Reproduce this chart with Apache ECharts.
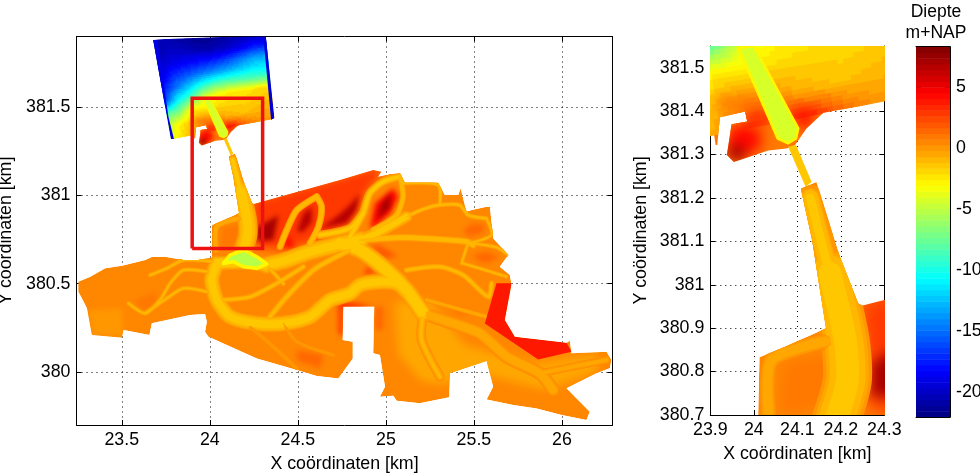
<!DOCTYPE html>
<html>
<head>
<meta charset="utf-8">
<title>Diepte</title>
<style>
html,body{margin:0;padding:0;background:#fff;}
#container{width:980px;height:476px;}
</style>
<script src="https://cdn.jsdelivr.net/npm/echarts@6/dist/echarts.min.js"></script>
</head>
<body>
<div id="container"></div>
<script>
// axis ticks
var mainXTicks = [23.5,24,24.5,25,25.5,26];
var mainYTicks = [380,380.5,381,381.5];
var zoomXTicks = [23.9,24,24.1,24.2,24.3];
var zoomYTicks = [380.7,380.8,380.9,381,381.1,381.2,381.3,381.4,381.5];
var barTicks = [-20,-15,-10,-5,0,5];
var depthMin = -22, depthMax = 8.3;

// red box on the main map, km
var zoomBox = [[23.9,380.7],[24.3,380.7],[24.3,381.55],[23.9,381.55],[23.9,380.7]];

// outline of the land part, km
var landOutline = [[23.253,380.511],[23.321,380.54],[23.406,380.587],[23.501,380.602],[23.633,380.634],[23.671,380.651],[23.746,380.653],[23.85,380.634],[23.935,380.634],[24.011,380.649],[24.01,380.7],[24.013,380.833],[24.072,380.857],[24.166,380.9],[24.134,381.103],[24.108,381.222],[24.144,381.237],[24.198,381.065],[24.24,380.957],[24.25,380.952],[24.3,380.965],[24.739,381.087],[24.928,381.144],[24.976,381.134],[24.955,381.106],[25.023,381.121],[25.08,381.125],[25.108,381.072],[25.297,381.072],[25.335,381.002],[25.411,381.002],[25.424,381.04],[25.458,380.908],[25.487,380.917],[25.572,380.936],[25.591,380.936],[25.609,380.757],[25.695,380.662],[25.647,380.596],[25.704,380.549],[25.714,380.493],[25.676,380.294],[25.733,380.2],[26.026,380.166],[26.045,380.177],[26.054,380.106],[26.253,380.115],[26.281,380.068],[26.272,380.021],[26.196,379.993],[26.026,379.908],[26.158,379.775],[26.139,379.728],[25.998,379.756],[25.856,379.794],[25.723,379.813],[25.572,379.845],[25.609,379.917],[25.572,380.062],[25.364,379.993],[25.36,379.857],[25.193,379.823],[25.061,379.837],[25.042,379.866],[24.966,379.86],[24.995,379.917],[24.966,380.096],[24.928,380.106],[24.934,380.37],[24.758,380.37],[24.755,380.181],[24.812,380.172],[24.812,380.077],[24.73,379.964],[24.607,379.977],[24.494,380.011],[24.267,380.077],[23.992,380.2],[23.973,380.228],[23.983,380.285],[23.973,380.328],[23.888,380.323],[23.671,380.276],[23.657,380.209],[23.51,380.238],[23.501,380.194],[23.33,380.209],[23.302,380.361],[23.274,380.417],[23.253,380.455]];
var landDepth = 0.5;

// patches on the land, painted in this order below the channels
var patchOutlines = [
  [[23.311,380.351],[23.5,380.36],[23.51,380.2],[23.33,380.21]],
  [[23.576,380.408],[23.699,380.455],[23.69,380.37],[23.614,380.351]],
  [[25.05,380.4],[25.25,380.4],[25.45,380.15],[25.85,380.05],[26.2,380.1],[26.2,380.0],[25.9,379.9],[25.5,380.0],[25.32,379.93],[25.2,379.95],[25.07,380.1]],
  [[24.072,380.819],[24.183,380.838],[24.179,380.742],[24.121,380.708],[24.059,380.704]],
  [[24.238,380.965],[24.73,381.097],[24.928,381.154],[24.986,381.144],[24.871,380.993],[24.796,380.842],[24.645,380.757],[24.418,380.691],[24.267,380.706]],
  [[24.27,380.82],[24.39,380.889],[24.361,380.747],[24.27,380.74]],
  [[24.494,380.795],[24.531,380.898],[24.579,380.936],[24.579,380.851],[24.531,380.795]],
  [[24.626,380.813],[24.72,380.879],[24.796,380.946],[24.853,381.012],[24.834,380.917],[24.777,380.842]],
  [[24.446,380.776],[24.484,380.706],[24.418,380.706]],
  [[24.909,380.813],[24.938,380.955],[25.042,381.04],[25.07,380.993],[25.023,380.898],[24.938,380.823]],
  [[24.947,380.861],[24.975,380.955],[25.032,381.012],[25.023,380.927]],
  [[25.439,380.804],[25.496,380.842],[25.571,380.832],[25.543,380.785],[25.467,380.766]],
  [[25.496,380.662],[25.571,380.681],[25.647,380.653],[25.571,380.615],[25.515,380.634]],
  [[24.909,380.719],[24.966,380.719],[25.07,380.653],[24.985,380.644]],
  [[24.871,380.559],[24.938,380.549],[24.9,380.596]],
  [[25.373,380.36],[25.439,380.351],[25.467,380.323],[25.401,380.323]],
  [[24.494,380.124],[24.645,380.096],[24.626,380.02],[24.494,380.068]],
  [[24.739,380.398],[24.852,380.385],[24.928,380.37],[24.758,380.36],[24.739,380.36]],
  [[24.73,380.38],[24.758,380.38],[24.758,380.2],[24.73,380.22]],
  [[24.938,380.37],[24.985,380.37],[24.985,380.238],[24.938,380.238]]
];
var patchDepths = [-0.2,1,-0.25,1.1,3,7,6.5,6.5,4.5,4.5,7,1.6,1.6,1.9,3,1,1.3,3.5,3,1.3];

// tidal channels: centre lines, widths and deepest value
var channelPaths = [
  [[25.212,380.332],[25.203,380.181],[25.307,379.973]],
  [[25.212,380.332],[25.382,380.275],[25.534,380.219],[25.685,380.087],[25.874,379.992],[25.95,379.898]],
  [[25.874,379.992],[26.06,380.03],[26.253,380.068]],
  [[24.13,381.2],[24.158,381.088],[24.175,381.026]],
  [[24.175,381.026],[24.21,380.873],[24.215,380.78],[24.19,380.69]],
  [[24.323,380.606],[24.437,380.634],[24.569,380.681],[24.796,380.738],[24.86,380.75]],
  [[24.86,380.75],[24.966,380.795],[25.117,380.88]],
  [[25.117,380.88],[25.22,380.925],[25.307,380.946],[25.42,380.945],[25.467,380.889],[25.571,380.87]],
  [[24.796,380.766],[24.871,380.9],[24.909,381.012],[24.985,381.078],[25.08,381.106]],
  [[24.928,380.804],[25.061,380.889],[25.098,380.993],[25.089,381.068],[25.08,381.106]],
  [[25.089,381.068],[25.297,381.059],[25.307,380.955]],
  [[24.399,380.71],[24.437,380.804],[24.494,380.917],[24.607,380.993]],
  [[24.569,380.728],[24.617,380.823],[24.635,380.936],[24.607,380.993]],
  [[24.626,380.776],[24.796,380.814],[24.871,380.9]],
  [[24.852,380.747],[25.098,380.762],[25.307,380.751],[25.458,380.738],[25.496,380.719]],
  [[25.467,380.728],[25.6,380.776],[25.571,380.87]],
  [[25.496,380.728],[25.628,380.706],[25.694,380.662]],
  [[25.467,380.728],[25.43,380.615],[25.439,380.615],[25.685,380.54]],
  [[24.739,380.728],[24.852,380.691],[25.004,380.577],[25.117,380.464],[25.212,380.332]],
  [[24.04,380.615],[24.011,380.521],[24.04,380.408],[24.115,380.313],[24.267,380.275],[24.418,380.275],[24.569,380.313],[24.683,380.408],[24.796,380.445],[24.852,380.492],[24.966,380.511],[25.061,380.502],[25.117,380.455]],
  [[24.342,380.313],[24.437,380.427],[24.588,380.577],[24.683,380.634],[24.796,380.691]],
  [[24.077,380.408],[24.229,380.426],[24.38,380.502],[24.531,380.596]],
  [[24.323,380.606],[24.418,380.5]],
  [[24.229,380.256],[24.361,380.143],[24.494,380.02]],
  [[24.418,380.275],[24.494,380.172],[24.702,380.096]],
  [[24.021,380.625],[23.85,380.634],[23.756,380.587],[23.661,380.549]],
  [[23.983,380.568],[23.85,380.577],[23.775,380.502],[23.718,380.408],[23.633,380.332],[23.538,380.389]],
  [[23.983,380.455],[23.85,380.474],[23.756,380.417],[23.633,380.332]],
  [[25.117,380.577],[25.307,380.596],[25.439,380.549],[25.581,380.426],[25.6,380.502]],
  [[25.231,380.408],[25.571,380.313]],
  [[24.04,380.615],[24.19,380.62],[24.323,380.606]],
  [[24.035,380.69],[24.04,380.825],[24.165,380.87]]
];
var channelWidths = [0.036,0.05,0.03,0.04,0.075,0.066,0.045,0.018,0.032,0.024,0.016,0.026,0.026,0.032,0.028,0.018,0.018,0.018,0.066,0.06,0.026,0.022,0.022,0.016,0.014,0.02,0.02,0.02,0.022,0.018,0.055,0.025];
var channelDepths = [-0.7,-0.6,-0.4,-1.3,-1.5,-1.55,-1.45,-0.8,-1.2,-1.05,-0.8,-1,-1,-1.2,-1,-0.7,-0.7,-0.7,-1.6,-1.55,-0.8,-0.8,-0.7,-0.2,-0.2,-0.7,-0.7,-0.7,-0.8,-0.6,-1.6,-0.5];

// raised red strip and the shallow green flat, above the channels
var stripOutline = [[25.628,380.502],[25.713,380.502],[25.676,380.294],[25.732,380.2],[26.026,380.166],[26.054,380.115],[25.865,380.071],[25.562,380.275]];
var stripDepth = 3.7;
var flatOutline = [[24.077,380.615],[24.115,380.662],[24.191,380.691],[24.267,380.653],[24.323,380.611],[24.267,380.587],[24.191,380.596],[24.134,380.625]];
var flatDepth = -5.3;

// sea part: outline, corners of the survey block and depths on it (north to south, west to east)
var seaOutline = [[23.678,381.88],[23.879,381.9],[24.318,381.9],[24.367,381.437],[24.348,381.427],[24.3,381.418],[24.198,381.403],[24.16,381.396],[24.121,381.36],[24.095,381.322],[24.075,381.314],[24.033,381.309],[23.954,381.283],[23.938,381.299],[23.949,381.37],[23.985,381.376],[23.98,381.399],[23.922,381.386],[23.916,381.322],[23.879,381.323],[23.779,381.319]];
var seaCorners = [[23.678,381.88],[24.318,381.903],[24.367,381.437],[23.779,381.319]];
var seaDepths = [
  [-20.5,-20.5,-21,-21.5,-21.5,-21,-20.5,-20,-20],
  [-20.5,-20,-20,-20.5,-20.5,-20,-19,-17.5,-17],
  [-20,-19,-18.5,-18,-17.5,-16.5,-15,-13.5,-13],
  [-19.5,-17,-16,-15,-14,-13,-12,-11,-11],
  [-18,-15,-12.5,-10,-8.5,-8,-8,-8,-8],
  [-17,-11,-8.5,-4.5,-3,-2.5,-2.5,-2,-2],
  [-8,-7,-2.5,-2.5,-2,-1.8,-1.8,-1.5,-1.2],
  [-5,-2.5,-1,0.5,-0.3,-1,-1.2,-0.8,-0.6],
  [-4,-2,0,2,2.5,3,1,0,-0.2]
];
// blurred spots around the harbour mouth, and blue block edges
var harbourOutline = [[23.9,381.405],[24.17,381.425],[24.13,381.33],[24.09,381.29],[23.92,381.27]];
var harbourDepth = 1;
var seaPatchOutlines = [
  [[23.911,381.437],[24.014,381.422],[24.03,381.395],[23.922,381.403]],
  [[23.945,381.364],[23.991,381.368],[24.018,381.349],[24.015,381.314],[23.968,381.291],[23.939,381.303]],
  [[23.941,381.303],[23.957,381.283],[23.984,381.303],[23.961,381.322],[23.946,381.318]],
  [[23.987,381.395],[24.022,381.399],[24.03,381.376],[23.992,381.372]],
  [[24.091,381.403],[24.137,381.403],[24.137,381.376],[24.114,381.356],[24.098,381.372]]
];
var seaPatchDepths = [1,4.5,8,4.5,4.5];
var seaEdgeOutlines = [
  [[23.68,381.88],[23.703,381.88],[23.765,381.446],[23.797,381.318],[23.778,381.318]],
  [[24.304,381.899],[24.323,381.899],[24.367,381.437],[24.348,381.427],[24.327,381.653]]
];
var seaEdgeDepths = [-19,-19.5];

// dredged entrance and the narrow neck behind it
var inletOutline = [[23.965,381.545],[24.0,381.55],[24.102,381.36],[24.097,381.337],[24.079,381.326],[24.055,381.337]];
var inletDepth = -4.2;
var neckOutline = [[24.079,381.318],[24.097,381.322],[24.133,381.237],[24.119,381.226]];
var neckDepth = -1.6;

function clamp01(v){ return Math.max(0,Math.min(1,v)); }
// matlab jet, 64 levels
function jetColor(depth){
	var p = clamp01((depth-depthMin)/(depthMax-depthMin));
	p = (Math.min(63,Math.floor(p*64))+0.5)/64;
	var r = clamp01(1.5-Math.abs(4*p-3));
	var g = clamp01(1.5-Math.abs(4*p-2));
	var b = clamp01(1.5-Math.abs(4*p-1));
	return 'rgb('+Math.round(r*255)+','+Math.round(g*255)+','+Math.round(b*255)+')';
}
function toPx(api,list){
	return list.map(function(p){ return api.coord(p); });
}
function mapScale(api){
	return api.size([1,0])[0]/176.2;
}
// only the shadow lands on the map, the shape itself sits off canvas
var offCanvas = 3000;
function softPatch(api,outline,depth,blur){
	var pts = toPx(api,outline).map(function(p){ return [p[0]-offCanvas,p[1]]; });
	return {type:'polygon',shape:{points:pts},silent:true,
		style:{fill:'#000',shadowColor:jetColor(depth),shadowBlur:blur,shadowOffsetX:offCanvas}};
}
function sharpPatch(api,outline,depth,fringeDepth,fringeWidth){
	var style = {fill:jetColor(depth)};
	if(fringeWidth){
		style.stroke = jetColor(fringeDepth);
		style.lineWidth = fringeWidth;
		style.lineJoin = 'round';
	}
	return {type:'polygon',shape:{points:toPx(api,outline)},silent:true,style:style};
}

function renderLand(params,api){
	var k = mapScale(api), perKm = api.size([1,0])[0];
	var kids = [];
	kids.push(sharpPatch(api,landOutline,landDepth));
	patchOutlines.forEach(function(o,i){
		kids.push(softPatch(api,o,patchDepths[i],(i==4||i==2?9:5)*k));
	});
	// several passes so that each channel fades to its bank
	[[1.5,0.2],[1.3,0.4],[1.1,0.6],[0.9,0.8],[0.7,0.92],[0.5,1]].forEach(function(pass){
		channelPaths.forEach(function(path,i){
			var d = landDepth+(channelDepths[i]-landDepth)*pass[1];
			kids.push({type:'polyline',shape:{points:toPx(api,path),smooth:0.25},silent:true,
				style:{stroke:jetColor(d),lineWidth:channelWidths[i]*pass[0]*perKm,lineCap:'round',lineJoin:'round',fill:null}});
		});
	});
	kids.push(sharpPatch(api,stripOutline,stripDepth));
	kids.push(sharpPatch(api,flatOutline,flatDepth,-3,0.02*perKm));
	return {type:'group',children:kids,
		clipPath:{type:'polygon',shape:{points:toPx(api,landOutline)}}};
}

function renderSea(params,api){
	var k = mapScale(api), perKm = api.size([1,0])[0];
	var kids = [];
	var rows = seaDepths.length-1, cols = seaDepths[0].length-1, sub = 6;
	function blockPoint(u,v){
		var a = seaCorners;
		return [
			(1-v)*((1-u)*a[0][0]+u*a[1][0])+v*((1-u)*a[3][0]+u*a[2][0]),
			(1-v)*((1-u)*a[0][1]+u*a[1][1])+v*((1-u)*a[3][1]+u*a[2][1])
		];
	}
	function depthAt(u,v){
		var fr = v*rows, fc = u*cols;
		var r = Math.min(rows-1,Math.floor(fr)), c = Math.min(cols-1,Math.floor(fc));
		var tr = fr-r, tc = fc-c;
		return (1-tr)*((1-tc)*seaDepths[r][c]+tc*seaDepths[r][c+1])+tr*((1-tc)*seaDepths[r+1][c]+tc*seaDepths[r+1][c+1]);
	}
	kids.push(sharpPatch(api,harbourOutline,harbourDepth));
	var nu = cols*sub, nv = rows*sub;
	for(var i=0;i<nv;i++){
		for(var j=0;j<nu;j++){
			var u0=j/nu,u1=(j+1)/nu,v0=i/nv,v1=(i+1)/nv;
			var c = jetColor(depthAt((u0+u1)/2,(v0+v1)/2));
			kids.push({type:'polygon',silent:true,
				shape:{points:toPx(api,[blockPoint(u0,v0),blockPoint(u1,v0),blockPoint(u1,v1),blockPoint(u0,v1)])},
				style:{fill:c,stroke:c,lineWidth:1}});
		}
	}
	seaPatchOutlines.forEach(function(o,i){
		kids.push(softPatch(api,o,seaPatchDepths[i],5*k));
	});
	seaEdgeOutlines.forEach(function(o,i){
		kids.push(sharpPatch(api,o,seaEdgeDepths[i]));
	});
	kids.push(sharpPatch(api,inletOutline,inletDepth,-2.6,0.006*perKm));
	var seaGroup = {type:'group',children:kids,
		clipPath:{type:'polygon',shape:{points:toPx(api,seaOutline)}}};
	return {type:'group',children:[seaGroup,sharpPatch(api,neckOutline,neckDepth)]};
}

function renderBar(params,api){
	var a = api.coord([0,api.value(0)]), b = api.coord([1,api.value(1)]);
	return {type:'rect',silent:true,
		shape:{x:a[0],y:b[1],width:b[0]-a[0],height:a[1]-b[1]+0.5},
		style:{fill:jetColor((api.value(0)+api.value(1))/2)}};
}

var barLevels = [];
for(var lv=0;lv<64;lv++){
	barLevels.push([depthMin+(depthMax-depthMin)*lv/64,depthMin+(depthMax-depthMin)*(lv+1)/64]);
}

var font = 'Liberation Sans';
var labelSize = 17.8;
function axisOf(grid,pos,min,max,list,withGrid,label,name,nameGap){
	var ax = {
		type:'value',scale:true,gridIndex:grid,position:pos,min:min,max:max,
		axisLine:{show:true,onZero:false,lineStyle:{color:'#000',width:1}},
		axisTick:{show:true,inside:true,length:5,customValues:list,lineStyle:{color:'#000',width:1}},
		axisLabel:{show:label,customValues:list,color:'#000',fontFamily:font,fontSize:labelSize,margin:6},
		splitLine:{show:withGrid,lineStyle:{color:'#000',width:1,type:[1,4]}}
	};
	if(name){
		ax.name = name;
		ax.nameLocation = 'middle';
		ax.nameGap = nameGap;
		ax.nameTextStyle = {color:'#000',fontFamily:font,fontSize:labelSize};
	}
	return ax;
}

var option = {
	animation:false,
	backgroundColor:'#fff',
	textStyle:{fontFamily:font},
	title:{text:'Diepte\nm+NAP',left:931,top:-3,textAlign:'center',
		textStyle:{color:'#000',fontFamily:font,fontSize:17.5,fontWeight:'normal',lineHeight:21}},
	grid:[
		{left:76.5,top:36.5,width:536,height:388.5,outerBoundsMode:'none'},
		{left:710.3,top:46,width:174,height:369,outerBoundsMode:'none'},
		{left:916,top:46.7,width:34,height:370.3,outerBoundsMode:'none'}
	],
	xAxis:[
		axisOf(0,'bottom',23.243,26.287,mainXTicks,true,true,'X coördinaten [km]',30),
		axisOf(0,'top',23.243,26.287,mainXTicks,false,false),
		axisOf(1,'bottom',23.9,24.3,zoomXTicks,true,true,'X coördinaten [km]',30),
		axisOf(1,'top',23.9,24.3,zoomXTicks,false,false),
		axisOf(2,'bottom',0,1,[],false,false),
		axisOf(2,'top',0,1,[],false,false)
	],
	yAxis:[
		axisOf(0,'left',379.7,381.9,mainYTicks,true,true,'Y coördinaten [km]',60),
		axisOf(0,'right',379.7,381.9,mainYTicks,false,false),
		axisOf(1,'left',380.7,381.55,zoomYTicks,true,true,'Y coördinaten [km]',60),
		axisOf(1,'right',380.7,381.55,zoomYTicks,false,false),
		axisOf(2,'right',depthMin,depthMax,barTicks,false,true),
		axisOf(2,'left',depthMin,depthMax,barTicks,false,false)
	],
	series:[
		{type:'custom',xAxisIndex:0,yAxisIndex:0,clip:true,silent:true,renderItem:renderSea,data:[[24,381.5]]},
		{type:'custom',xAxisIndex:0,yAxisIndex:0,clip:true,silent:true,renderItem:renderLand,data:[[24,380.5]]},
		{type:'line',xAxisIndex:0,yAxisIndex:0,data:zoomBox,symbol:'none',silent:true,z:5,
			lineStyle:{color:'#ee1111',width:3.5,join:'miter'}},
		{type:'custom',xAxisIndex:2,yAxisIndex:2,clip:true,silent:true,renderItem:renderSea,data:[[24,381.5]]},
		{type:'custom',xAxisIndex:2,yAxisIndex:2,clip:true,silent:true,renderItem:renderLand,data:[[24,380.8]]},
		{type:'custom',xAxisIndex:4,yAxisIndex:4,clip:true,silent:true,renderItem:renderBar,
			encode:{y:[0,1]},data:barLevels}
	]
};
var myChart = echarts.init(document.getElementById('container'));
myChart.setOption(option);
</script>
</body>
</html>
